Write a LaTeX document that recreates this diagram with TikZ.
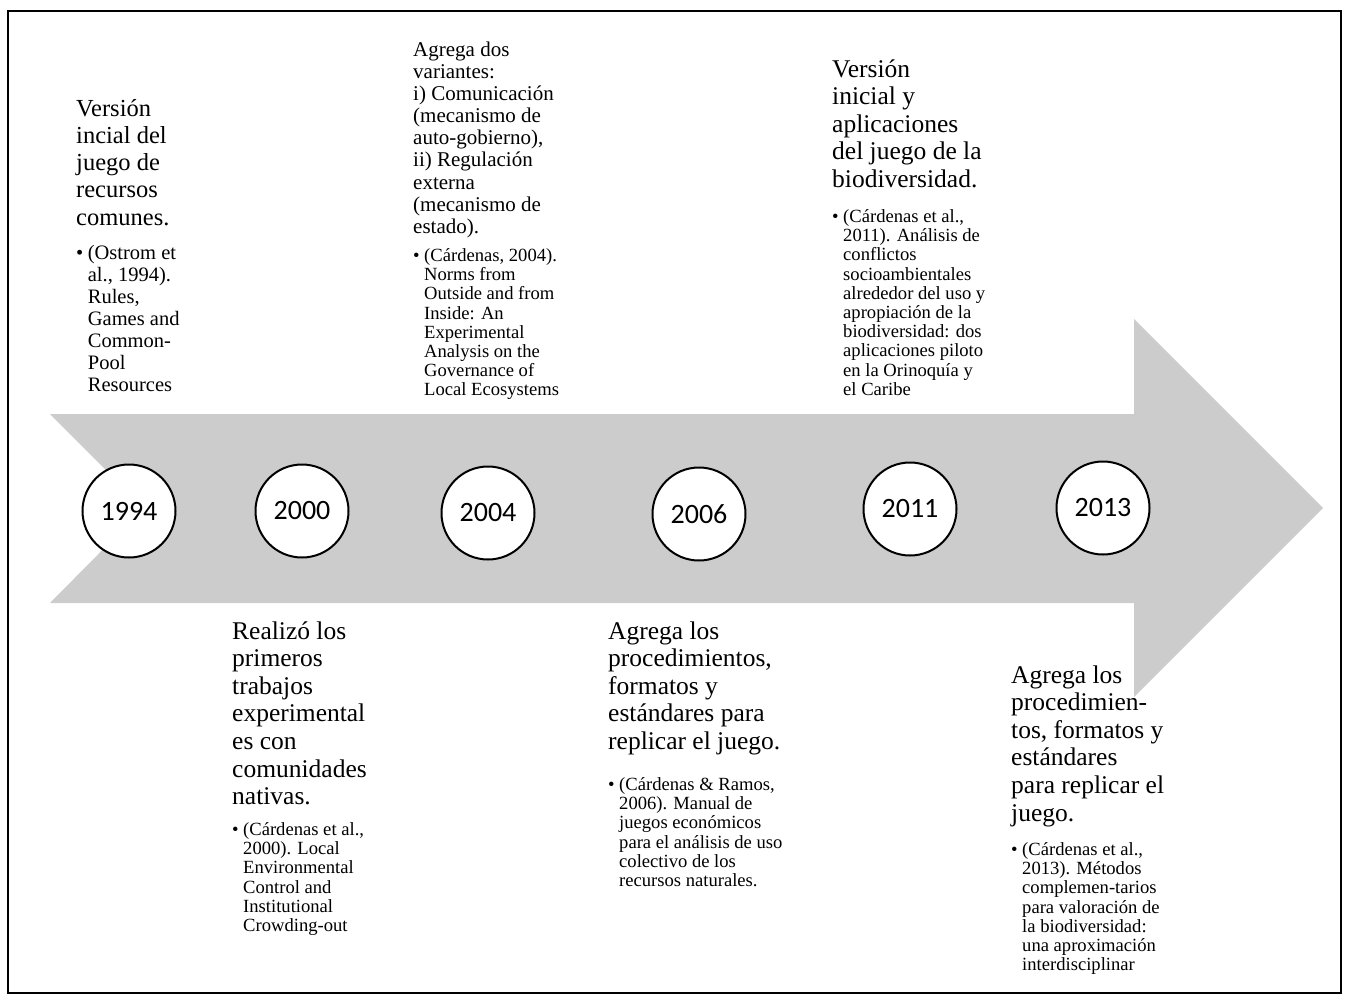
\documentclass[tikz,border=0pt]{standalone}
\usepackage{fontspec}
\setmainfont{Liberation Serif}
\newfontfamily\yearfont{Carlito}
\definecolor{arrowgray}{RGB}{204,204,204}
\newcommand{\refitem}[1]{\textbullet\hspace{4.5pt}\begin{tabular}[t]{@{}l@{}}#1\end{tabular}}
\newcommand{\lines}[1]{\begin{tabular}[t]{@{}l@{}}#1\end{tabular}}
\tikzset{
  yearcirc/.style={circle, draw=black, line width=2pt, fill=white,
    minimum size=93pt, inner sep=0pt, font=\yearfont\fontsize{28}{30}\selectfont},
  headtxt/.style={anchor=base west, inner sep=0pt, font=\fontsize{25.5}{27.6}\selectfont},
  smallhead/.style={anchor=base west, inner sep=0pt, font=\fontsize{21}{22.2}\selectfont},
  reftxt/.style={anchor=base west, inner sep=0pt, font=\fontsize{18.6}{19.2}\selectfont},
  bigref/.style={anchor=base west, inner sep=0pt, font=\fontsize{20.5}{22}\selectfont},
}
\begin{document}
\begin{tikzpicture}[x=1pt, y=-1pt]
  \useasboundingbox (0,0) rectangle (1349,1001);
  % outer frame
  \draw[line width=2.5pt] (8,11) rectangle (1341,993);
  % timeline arrow
  \fill[arrowgray] (50,414) -- (1134,414) -- (1134,319) -- (1323,508)
    -- (1134,697) -- (1134,603) -- (50,603) -- (144,508) -- cycle;
  % year markers
  \node[yearcirc] (y1994) at (129,511) {1994};
  \node[yearcirc] (y2000) at (302,511) {2000};
  \node[yearcirc] (y2004) at (488,513) {2004};
  \node[yearcirc] (y2006) at (699,514) {2006};
  \node[yearcirc] (y2011) at (910,509) {2011};
  \node[yearcirc] (y2013) at (1103,508) {2013};
  % 1994
  \node[headtxt, font=\fontsize{24.5}{27.25}\selectfont] (h1994) at (76,116) {\lines{Versión\\incial del\\juego de\\recursos\\comunes.}};
  \node[bigref] (r1994) at (76,259.5) {\refitem{(Ostrom et\\al., 1994).\\Rules,\\Games and\\Common-\\Pool\\Resources}};
  % 2000
  \node[headtxt] (h2000) at (232,639) {\lines{Realizó los\\primeros\\trabajos\\experimental\\es con\\comunidades\\nativas.}};
  \node[reftxt] (r2000) at (232,835.5) {\refitem{(Cárdenas et al.,\\2000). Local\\Environmental\\Control and\\Institutional\\Crowding-out}};
  % 2004
  \node[smallhead] (h2004) at (413,56) {\lines{Agrega dos\\variantes:\\i) Comunicación\\(mecanismo de\\auto-gobierno),\\ii) Regulación\\externa\\(mecanismo de\\estado).}};
  \node[reftxt] (r2004) at (413,261.5) {\refitem{(Cárdenas, 2004).\\Norms from\\Outside and from\\Inside: An\\Experimental\\Analysis on the\\Governance of\\Local Ecosystems}};
  % 2006
  \node[headtxt] (h2006) at (608,639) {\lines{Agrega los\\procedimientos,\\formatos y\\estándares para\\replicar el juego.}};
  \node[reftxt] (r2006) at (608,790.5) {\refitem{(Cárdenas \& Ramos,\\2006). Manual de\\juegos económicos\\para el análisis de uso\\colectivo de los\\recursos naturales.}};
  % 2011
  \node[headtxt] (h2011) at (832,77) {\lines{Versión\\inicial y\\aplicaciones\\del juego de la\\biodiversidad.}};
  \node[reftxt] (r2011) at (832,222.5) {\refitem{(Cárdenas et al.,\\2011). Análisis de\\conflictos\\socioambientales\\alrededor del uso y\\apropiación de la\\biodiversidad: dos\\aplicaciones piloto\\en la Orinoquía y\\el Caribe}};
  % 2013
  \node[headtxt] (h2013) at (1011,683) {\lines{Agrega los\\procedimien-\\tos, formatos y\\estándares\\para replicar el\\juego.}};
  \node[reftxt] (r2013) at (1011,855.5) {\refitem{(Cárdenas et al.,\\2013). Métodos\\complemen-tarios\\para valoración de\\la biodiversidad:\\una aproximación\\interdisciplinar}};
\end{tikzpicture}
\end{document}
